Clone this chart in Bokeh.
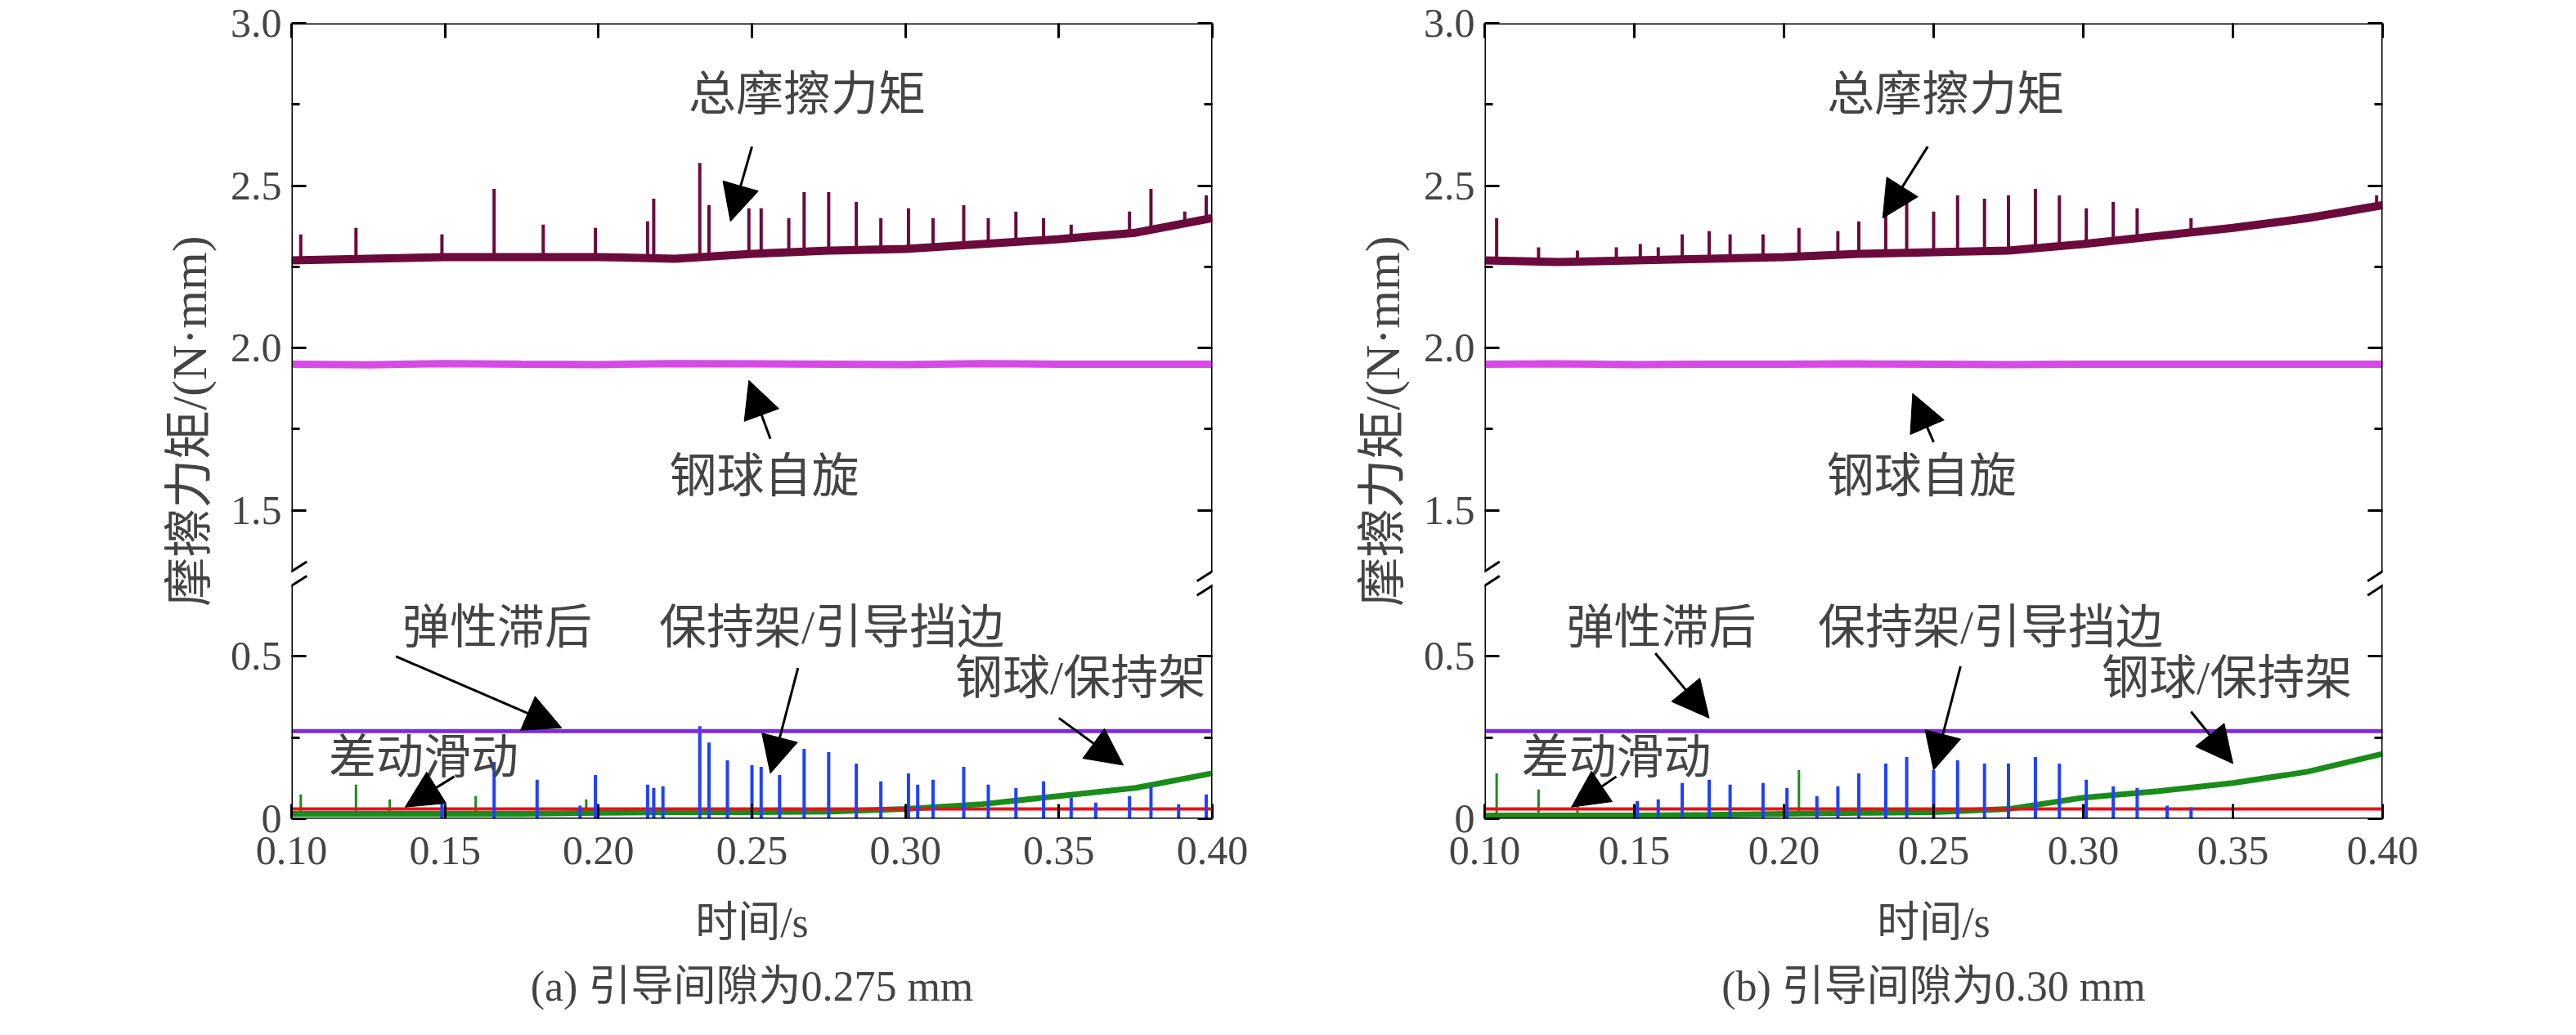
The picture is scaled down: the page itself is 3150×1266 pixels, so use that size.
import numpy as np
from bokeh.plotting import figure
from bokeh.layouts import row
from bokeh.models import (FixedTicker, CustomJSTickFormatter, LinearAxis, Arrow, NormalHead,
                          Label, Title, Range1d)
from bokeh.embed import file_html
from bokeh.resources import INLINE

OFF = 0.55      # upper part shift (broken axis)
BRK = 0.74      # break position (display scale)

# ---------------- data ----------------
t_base = [0.100, 0.125, 0.150, 0.175, 0.200, 0.225, 0.250, 0.275, 0.300, 0.325, 0.350, 0.375, 0.400]
# panel (a)
a_total_base = [2.27, 2.275, 2.28, 2.28, 2.28, 2.275, 2.29, 2.30, 2.305, 2.32, 2.335, 2.355, 2.40]
a_total_spk_t = [0.103, 0.121, 0.149, 0.166, 0.182, 0.199, 0.216, 0.218, 0.233, 0.236, 0.249, 0.253,
                 0.262, 0.267, 0.275, 0.284, 0.292, 0.301, 0.309, 0.319, 0.327, 0.336, 0.345, 0.354,
                 0.373, 0.380, 0.391, 0.398]
a_total_spk_v = [2.35, 2.37, 2.35, 2.49, 2.38, 2.37, 2.39, 2.46, 2.57, 2.44, 2.43, 2.43,
                 2.40, 2.48, 2.48, 2.45, 2.40, 2.43, 2.40, 2.44, 2.40, 2.42, 2.40, 2.38,
                 2.42, 2.49, 2.42, 2.47]
a_spin = [1.95, 1.948, 1.952, 1.95, 1.949, 1.952, 1.951, 1.95, 1.949, 1.952, 1.95, 1.95, 1.95]
a_elastic = 0.27
a_diff = 0.03
a_green_base = [0.015, 0.015, 0.015, 0.015, 0.018, 0.02, 0.02, 0.022, 0.03, 0.045, 0.07, 0.095, 0.14]
a_green_spk_t = [0.103, 0.121, 0.132, 0.160, 0.196, 0.218]
a_green_spk_v = [0.075, 0.105, 0.06, 0.07, 0.06, 0.07]
a_blue_t = [0.149, 0.166, 0.180, 0.194, 0.199, 0.216, 0.218, 0.221, 0.233, 0.236, 0.242, 0.250, 0.253,
            0.259, 0.267, 0.275, 0.284, 0.292, 0.301, 0.304, 0.309, 0.319, 0.327, 0.336, 0.345,
            0.354, 0.362, 0.373, 0.380, 0.389, 0.398]
a_blue_v = [0.06, 0.175, 0.12, 0.04, 0.135, 0.105, 0.095, 0.10, 0.285, 0.235, 0.18, 0.165, 0.16,
            0.135, 0.215, 0.205, 0.17, 0.115, 0.14, 0.105, 0.12, 0.16, 0.105, 0.095, 0.115,
            0.065, 0.05, 0.07, 0.10, 0.045, 0.075]
# panel (b)
b_total_base = [2.27, 2.265, 2.27, 2.275, 2.28, 2.29, 2.295, 2.30, 2.32, 2.345, 2.37, 2.40, 2.44]
b_total_spk_t = [0.104, 0.118, 0.131, 0.144, 0.152, 0.158, 0.166, 0.175, 0.182, 0.193, 0.205, 0.218,
                 0.225, 0.234, 0.241, 0.250, 0.258, 0.267, 0.275, 0.284, 0.292, 0.301, 0.310, 0.318,
                 0.336, 0.398]
b_total_spk_v = [2.40, 2.31, 2.30, 2.31, 2.32, 2.31, 2.35, 2.36, 2.35, 2.35, 2.37, 2.36,
                 2.39, 2.42, 2.47, 2.42, 2.47, 2.46, 2.47, 2.49, 2.47, 2.43, 2.45, 2.43,
                 2.40, 2.47]
b_spin = [1.95, 1.951, 1.949, 1.95, 1.95, 1.951, 1.95, 1.949, 1.95, 1.95, 1.95, 1.95, 1.95]
b_elastic = 0.27
b_diff = 0.03
b_green_base = [0.01, 0.01, 0.01, 0.012, 0.015, 0.018, 0.02, 0.03, 0.065, 0.085, 0.11, 0.145, 0.20]
b_green_spk_t = [0.104, 0.118, 0.131, 0.205]
b_green_spk_v = [0.14, 0.09, 0.06, 0.15]
b_blue_t = [0.151, 0.158, 0.166, 0.175, 0.182, 0.193, 0.201, 0.211, 0.218, 0.225, 0.234, 0.241,
            0.250, 0.258, 0.267, 0.275, 0.284, 0.292, 0.301, 0.310, 0.318, 0.328, 0.336]
b_blue_v = [0.055, 0.06, 0.11, 0.12, 0.105, 0.11, 0.095, 0.07, 0.10, 0.14, 0.17, 0.19,
            0.15, 0.18, 0.17, 0.17, 0.19, 0.17, 0.12, 0.10, 0.095, 0.04, 0.035]

TXT = "Liberation Serif, Noto Sans CJK SC"
C_TOT, C_SPIN, C_EL, C_DIFF, C_GR, C_BL = "#6a0b3c", "#d64ae6", "#7b2be0", "#e8101a", "#1a8c1a", "#2040ff"


def spikes(p, tb, vb, st, sv, color, w, shift=0.0):
    feet = np.interp(st, tb, vb)
    p.segment(st, feet - shift, st, np.array(sv) - shift, color=color, line_width=w)


def panel(total_base, tspk_t, tspk_v, spin, elastic, diff, gbase, gspk_t, gspk_v, bl_t, bl_v,
          width, left, right, caption, ann):
    p = figure(width=width, height=1250, x_range=Range1d(0.1, 0.4), y_range=Range1d(0, 2.45),
               output_backend="svg", toolbar_location=None, min_border_left=left,
               min_border_right=right, min_border_top=28, min_border_bottom=30)
    p.grid.visible = False
    p.outline_line_color = None
    p.background_fill_color = "white"

    # series
    p.line(t_base, gbase, color=C_GR, line_width=7)
    spikes(p, t_base, gbase, gspk_t, gspk_v, C_GR, 3)
    p.line(t_base, [diff] * len(t_base), color=C_DIFF, line_width=4)
    p.segment(bl_t, [0] * len(bl_t), bl_t, bl_v, color=C_BL, line_width=4)
    p.line(t_base, [elastic] * len(t_base), color=C_EL, line_width=5)
    p.line(t_base, np.array(spin) - OFF, color=C_SPIN, line_width=9)
    p.line(t_base, np.array(total_base) - OFF, color=C_TOT, line_width=10)
    spikes(p, t_base, total_base, tspk_t, tspk_v, C_TOT, 4, OFF)

    # spines with break
    p.segment([0.1, 0.1, 0.4, 0.4, 0.1, 0.1], [0, BRK + 0.02, 0, BRK + 0.02, 0, 2.45],
              [0.1, 0.1, 0.4, 0.4, 0.4, 0.4], [BRK - 0.02, 2.45, BRK - 0.02, 2.45, 0, 2.45],
              color="black", line_width=3)
    for xe in (0.1, 0.4):
        for d in (-0.022, 0.022):
            p.segment([xe - 0.005], [BRK + d - 0.03], [xe + 0.005], [BRK + d + 0.03],
                      color="black", line_width=3)

    yt = [0, 0.5, 1.5 - OFF, 2.0 - OFF, 2.5 - OFF, 3.0 - OFF]
    ym = [0.25, 1.75 - OFF, 2.25 - OFF, 2.75 - OFF]
    xt = [0.10, 0.15, 0.20, 0.25, 0.30, 0.35, 0.40]
    fmt_y = CustomJSTickFormatter(code="""
        if (Math.abs(tick) < 1e-6) return "0";
        return (tick > %f ? tick + %f : tick).toFixed(1);""" % (BRK, OFF))
    xa = p.below[0]
    ya = p.left[0]
    ya.ticker = FixedTicker(ticks=yt, minor_ticks=ym)
    ya.formatter = fmt_y
    xa.ticker = FixedTicker(ticks=xt)
    xa.formatter = CustomJSTickFormatter(code="return tick.toFixed(2);")
    ra = LinearAxis(ticker=FixedTicker(ticks=yt, minor_ticks=ym), major_label_text_font_size="0px")
    ta = LinearAxis(ticker=FixedTicker(ticks=xt), major_label_text_font_size="0px")
    p.add_layout(ra, "right")
    p.add_layout(ta, "above")
    for ax in (xa, ya, ra, ta):
        ax.axis_line_color = None
        ax.major_tick_in = 18
        ax.major_tick_out = 0
        ax.minor_tick_in = 10
        ax.minor_tick_out = 0
        ax.major_tick_line_width = 3
        ax.minor_tick_line_width = 3
        ax.major_label_text_font = TXT
        ax.axis_label_text_font = TXT
        ax.axis_label_text_font_style = "normal"
    ra.major_label_standoff = 0
    ta.major_label_standoff = 0
    xa.major_label_text_font_size = "50px"
    xa.major_label_standoff = 22
    xa.axis_label = "时间/s"
    xa.axis_label_text_font_size = "52px"
    xa.axis_label_standoff = 40
    ya.major_label_text_font_size = "50px"
    ya.major_label_standoff = 12
    ya.axis_label = "摩擦力矩/(N·mm)"
    ya.axis_label_text_font_size = "60px"
    ya.axis_label_standoff = 14

    cap = Title(text=caption, align="center", text_font=TXT, text_font_size="52px",
                text_font_style="normal", standoff=32)
    p.add_layout(cap, "below")

    for (lx, ly, txt, x0, y0, x1, y1) in ann:
        p.add_layout(Label(x=lx, y=ly, text=txt, text_align="center", text_baseline="middle",
                           text_font=TXT, text_font_size="58px", background_fill_color=None))
        p.add_layout(Arrow(x_start=x0, y_start=y0, x_end=x1, y_end=y1, line_width=3,
                           end=NormalHead(size=45, fill_color="black", line_color="black")))
    return p


ann_a = [(0.268, 2.78 - OFF, "总摩擦力矩", 0.250, 2.62 - OFF, 0.243, 2.39 - OFF),
         (0.254, 1.606 - OFF, "钢球自旋", 0.256, 1.72 - OFF, 0.249, 1.90 - OFF),
         (0.167, 0.588, "弹性滞后", 0.134, 0.50, 0.188, 0.28),
         (0.276, 0.588, "保持架/引导挡边", 0.265, 0.464, 0.256, 0.14),
         (0.357, 0.433, "钢球/保持架", 0.350, 0.31, 0.371, 0.165),
         (0.143, 0.19, "差动滑动", 0.153, 0.13, 0.137, 0.036)]
ann_b = [(0.254, 2.78 - OFF, "总摩擦力矩", 0.248, 2.62 - OFF, 0.233, 2.40 - OFF),
         (0.246, 1.606 - OFF, "钢球自旋", 0.250, 1.71 - OFF, 0.243, 1.86 - OFF),
         (0.159, 0.588, "弹性滞后", 0.157, 0.51, 0.175, 0.31),
         (0.269, 0.588, "保持架/引导挡边", 0.259, 0.47, 0.250, 0.15),
         (0.348, 0.433, "钢球/保持架", 0.336, 0.33, 0.350, 0.17),
         (0.144, 0.19, "差动滑动", 0.144, 0.13, 0.129, 0.036)]

pa = panel(a_total_base, a_total_spk_t, a_total_spk_v, a_spin, a_elastic, a_diff, a_green_base,
           a_green_spk_t, a_green_spk_v, a_blue_t, a_blue_v, 1560, 356, 78,
           "(a) 引导间隙为0.275 mm", ann_a)
pb = panel(b_total_base, b_total_spk_t, b_total_spk_v, b_spin, b_elastic, b_diff, b_green_base,
           b_green_spk_t, b_green_spk_v, b_blue_t, b_blue_v, 1574, 255, 221,
           "(b) 引导间隙为0.30 mm", ann_b)

layout = row(pa, pb)
open("out.html", "w").write(file_html(layout, INLINE))
